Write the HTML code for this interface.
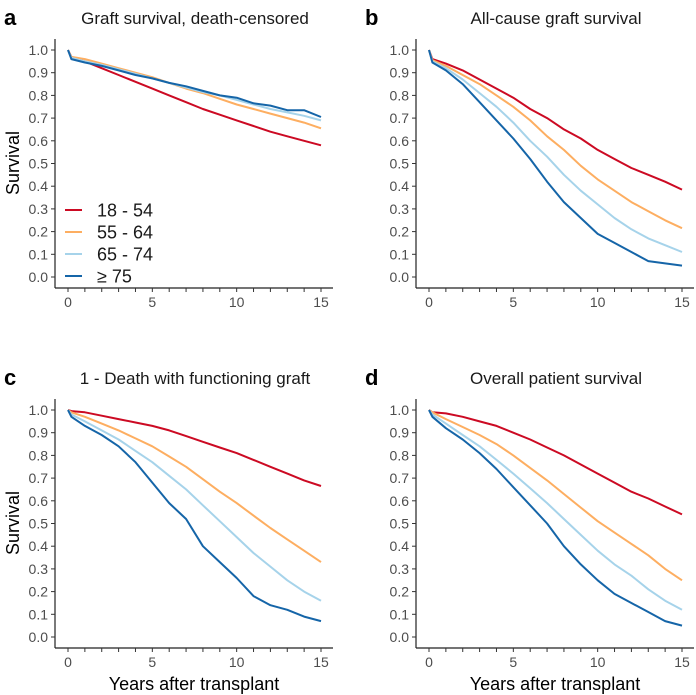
<!DOCTYPE html>
<html><head><meta charset="utf-8"><style>
body{margin:0;background:#fff;}
svg{display:block;font-family:"Liberation Sans",sans-serif;}
</style></head><body>
<svg id="chart" width="696" height="695" viewBox="0 0 696 695"></svg>
<script>
const years=[0,0.2,1,2,3,4,5,6,7,8,9,10,11,12,13,14,15];
const groups=["18 - 54","55 - 64","65 - 74","≥ 75"];
const colors=["#cc0a23","#fdae61","#a6d3ea","#1565a8"];
const panelTitles=["Graft survival, death-censored","All-cause graft survival","1 - Death with functioning graft","Overall patient survival"];
const panelLetters=["a","b","c","d"];
const yTicks=[0,0.1,0.2,0.3,0.4,0.5,0.6,0.7,0.8,0.9,1.0];
const xTicks=[0,5,10,15];
// panel a
const a1=[1,0.97,0.95,0.92,0.89,0.86,0.83,0.80,0.77,0.74,0.715,0.69,0.665,0.64,0.62,0.60,0.58];
const a2=[1,0.97,0.96,0.94,0.92,0.90,0.88,0.855,0.83,0.81,0.785,0.76,0.74,0.72,0.70,0.68,0.655];
const a3=[1,0.965,0.95,0.935,0.915,0.895,0.875,0.855,0.835,0.815,0.80,0.78,0.76,0.74,0.725,0.71,0.69];
const a4=[1,0.96,0.945,0.93,0.91,0.89,0.875,0.855,0.84,0.82,0.80,0.79,0.765,0.755,0.735,0.735,0.705];
// panel b
const b1=[1,0.96,0.94,0.91,0.87,0.83,0.79,0.74,0.70,0.65,0.61,0.56,0.52,0.48,0.45,0.42,0.385];
const b2=[1,0.955,0.93,0.89,0.85,0.80,0.75,0.69,0.62,0.56,0.49,0.43,0.38,0.33,0.29,0.25,0.215];
const b3=[1,0.95,0.92,0.87,0.81,0.75,0.68,0.60,0.53,0.45,0.38,0.32,0.26,0.21,0.17,0.14,0.11];
const b4=[1,0.945,0.91,0.85,0.77,0.69,0.61,0.52,0.42,0.33,0.26,0.19,0.15,0.11,0.07,0.06,0.05];
// panel c
const c1=[1,0.995,0.99,0.975,0.96,0.945,0.93,0.91,0.885,0.86,0.835,0.81,0.78,0.75,0.72,0.69,0.665];
const c2=[1,0.99,0.97,0.94,0.91,0.875,0.84,0.795,0.75,0.695,0.64,0.59,0.535,0.48,0.43,0.38,0.33];
const c3=[1,0.98,0.95,0.91,0.87,0.82,0.77,0.71,0.65,0.58,0.51,0.44,0.37,0.31,0.25,0.20,0.16];
const c4=[1,0.97,0.93,0.89,0.84,0.77,0.68,0.59,0.52,0.40,0.33,0.26,0.18,0.14,0.12,0.09,0.07];
// panel d
const d1=[1,0.99,0.985,0.97,0.95,0.93,0.90,0.87,0.835,0.80,0.76,0.72,0.68,0.64,0.61,0.575,0.54];
const d2=[1,0.99,0.96,0.925,0.89,0.85,0.80,0.745,0.69,0.63,0.57,0.51,0.46,0.41,0.36,0.30,0.25];
const d3=[1,0.98,0.94,0.89,0.84,0.78,0.72,0.655,0.59,0.52,0.45,0.38,0.32,0.27,0.21,0.16,0.12];
const d4=[1,0.97,0.92,0.87,0.81,0.74,0.66,0.58,0.50,0.40,0.32,0.25,0.19,0.15,0.11,0.07,0.05];
const panelData=[[a1,a2,a3,a4],[b1,b2,b3,b4],[c1,c2,c3,c4],[d1,d2,d3,d4]];

const NS="http://www.w3.org/2000/svg";
const svg=document.getElementById('chart');
function mk(tag,attrs,parent,text){const e=document.createElementNS(NS,tag);for(const k in attrs)e.setAttribute(k,attrs[k]);if(text!==undefined)e.textContent=text;(parent||svg).appendChild(e);return e;}
const offsets=[[0,0],[361,0],[0,360],[361,360]];
panelData.forEach((series,p)=>{
  const ox=offsets[p][0],oy=offsets[p][1];
  const g=mk('g',{});
  
  
  const xs=v=>ox+68+v*(321-68)/15;
  const ys=v=>oy+277-v*(277-50);
  const L=mk('text',{x:ox+4,y:oy+25,'font-size':22,'font-weight':'bold',fill:'#000'},g,panelLetters[p]);
  
  
  const T=mk('text',{x:ox+195,y:oy+24,'font-size':17,'text-anchor':'middle',fill:'#1a1a1a'},g,panelTitles[p]);
  
  
  const ya=mk('line',{x1:ox+55,y1:oy+39,x2:ox+55,y2:oy+288,stroke:'#222','stroke-width':1.2},g);
  
  
  const xa=mk('line',{x1:ox+55,y1:oy+288,x2:ox+333,y2:oy+288,stroke:'#222','stroke-width':1.2},g);
  
  
  yTicks.forEach(t=>{
    mk('line',{x1:ox+51,x2:ox+55,y1:ys(t),y2:ys(t),stroke:'#333'},g);
    const tl=mk('text',{x:ox+48,y:ys(t)+5,'font-size':14,'text-anchor':'end',fill:'#4d4d4d'},g,t.toFixed(1));
    
    
  });
  for(let i=0;i<=15;i++) mk('line',{x1:xs(i),x2:xs(i),y1:oy+288,y2:oy+292,stroke:'#333'},g);
  xTicks.forEach(t=>{
    const tl=mk('text',{x:xs(t),y:oy+307,'font-size':14,'text-anchor':'middle',fill:'#4d4d4d'},g,String(t));
    
    
  });
  if(p%2===0){
    const yt=mk('text',{x:0,y:0,'font-size':18,'text-anchor':'middle',fill:'#000',transform:`translate(${ox+19},${oy+163}) rotate(-90)`},g,'Survival');
    
    
  }
  if(p>=2){
    const xt=mk('text',{x:ox+194,y:oy+330,'font-size':18,'text-anchor':'middle',fill:'#000'},g,'Years after transplant');
    
    
  }
  series.forEach((vals,s)=>{
    const d=vals.map((v,i)=>(i?'L':'M')+xs(years[i]).toFixed(1)+','+ys(v).toFixed(1)).join(' ');
    const pa=mk('path',{d:d,fill:'none',stroke:colors[s],'stroke-width':2,'stroke-linejoin':'round'},g);
    
    
  });
  if(p===0){
    groups.forEach((gname,i)=>{
      const yy=210+i*22;
      const lg=mk('g',{},g);
      
      
      mk('line',{x1:65,x2:82,y1:yy,y2:yy,stroke:colors[i],'stroke-width':2},lg);
      mk('text',{x:97,y:yy+6.5,'font-size':18,fill:'#1a1a1a'},lg,gname);
    });
  }
});
</script>
</body></html>
